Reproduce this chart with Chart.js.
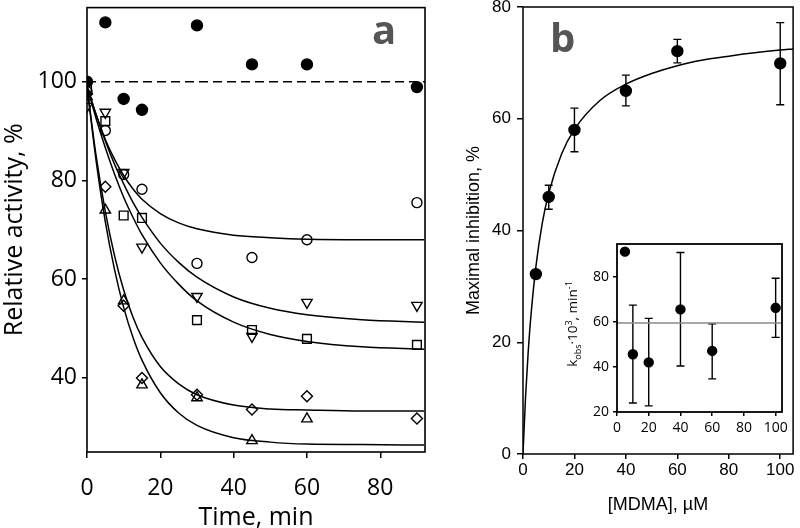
<!DOCTYPE html>
<html>
<head>
<meta charset="utf-8">
<script src="https://cdn.jsdelivr.net/npm/chart.js@4.4.1/dist/chart.umd.min.js"></script>
<style>
  body { margin: 0; background: #fff; }
  #wrap { position: relative; width: 800px; height: 528px; overflow: hidden; background: #fff; }
  canvas { position: absolute; }
  .tag { position: absolute; font-family: 'Open Sans'; font-weight: bold; font-size: 40px; line-height: 40px; color: #555; }
  #kobs { position: absolute; left: 573px; top: 324px; transform: translate(-50%, -50%) rotate(-90deg);
          white-space: nowrap; font: 13.5px 'Open Sans'; color: #000; }
  #kobs sub, #kobs sup { font-size: 9px; }
</style>
</head>
<body>
<div id="wrap">
  <canvas id="panelA" width="440" height="528" style="left:0;top:0"></canvas>
  <canvas id="panelB" width="360" height="528" style="left:440px;top:0"></canvas>
  <canvas id="inset" width="210" height="218" style="left:580px;top:228px"></canvas>
  <div class="tag" style="left:372px;top:9px">a</div>
  <div class="tag" style="left:550px;top:17px">b</div>
  <div id="kobs">k<sub>obs</sub>·10<sup>3</sup>, min<sup>-1</sup></div>
</div>
<script>
// ── panel a: relative activity vs time ────────────────────────────────────────
const timeMin    = [0, 5, 10, 15, 30, 45, 60, 90];
const controlAct = [100, 112, 96.5, 94.3, 111.4, 103.5, 103.5, 98.9];
const circleAct  = [98, 90.1, 81.2, 78.2, 63.2, 64.4, 68.0, 75.5];
const triDownAct = [95, 93.8, 81.6, 66.5, 56.5, 48.4, 55.3, 54.7];
const squareAct  = [98.5, 92, 72.9, 72.4, 51.7, 49.7, 47.9, 46.7];
const diamondAct = [97.5, 78.7, 54.6, 40.0, 36.6, 33.6, 36.3, 31.8];
const triUpAct   = [97, 74, 55.6, 38.6, 36.0, 27.3, 31.7, null];

// fitted curves
const fitTime     = [0, 2.5, 5, 7.5, 10, 12.5, 15, 20, 25, 30, 40, 50, 60, 75, 92];
const fitCircle   = [99, 93.3, 88.3, 84.3, 81.0, 78.3, 76.2, 73.3, 71.4, 70.2, 68.9, 68.4, 68.1, 68.0, 68.0];
const fitTriDown  = [99, 93.3, 88.0, 83.3, 79.3, 75.6, 72.5, 67.3, 63.4, 60.4, 56.4, 54.1, 52.8, 51.8, 51.3];
const fitSquare   = [99, 92.5, 86.6, 81.3, 76.6, 72.6, 69.0, 63.3, 59.0, 55.6, 51.3, 48.8, 47.4, 46.3, 45.8];
const fitDiamond  = [99, 84.9, 73.7, 64.8, 57.8, 52.4, 48.2, 42.3, 38.8, 36.6, 34.5, 33.7, 33.5, 33.3, 33.3];
const fitTriUp    = [99, 83.9, 71.6, 62.0, 54.3, 48.3, 43.6, 37.0, 32.9, 30.4, 27.9, 27.0, 26.6, 26.5, 26.4];
const refLine     = [100, 100];
const refTime     = [0, 92.2];

// ── panel b: maximal inhibition vs [MDMA] ─────────────────────────────────────
const mdma       = [5, 10, 20, 40, 60, 100];
const maxInhib   = [32.2, 46, 58, 65, 72.1, 69.9];
const inhibLow   = [null, 43.8, 54.1, 62.3, 70.0, 62.5];
const inhibHigh  = [null, 48.1, 61.9, 67.8, 74.2, 77.2];
const fitMdma    = [0, 1, 2, 3, 5, 7.5, 10, 15, 20, 30, 40, 50, 60, 70, 80, 90, 100, 105];
const fitInhib   = [0, 10.3, 18.1, 24.3, 33.5, 41.3, 46.7, 53.7, 58.1, 63.3, 66.2, 68.1, 69.5, 70.5, 71.2, 71.8, 72.3, 72.5];

// ── inset: k_obs vs [MDMA] ───────────────────────────────────────────────────
const kMdma  = [5, 10, 20, 40, 60, 100];
const kObs   = [91.1, 45.6, 42, 65.5, 47.1, 66.2];
const kLow   = [null, 24, 22.7, 40.4, 34.7, 53.1];
const kHigh  = [null, 67.4, 61.5, 90.7, 59.1, 79.3];
const kMeanX = [0, 104];
const kMean  = [59.5, 59.5];

const xy = (xs, ys) => xs.map((x, i) => ({ x, y: ys[i] }));
const ticksAt = vals => s => { s.ticks = vals.map(v => ({ value: v })); };
const fixY = w => s => { s.width = w; s.paddingTop = 0; s.paddingBottom = 0; };
const fixX = h => s => { s.height = h; s.paddingLeft = 0; s.paddingRight = 0; };

const frame = {
  id: 'frame',
  beforeDraw(chart) {
    const { ctx, chartArea: a } = chart;
    ctx.save();
    ctx.fillStyle = '#fff';
    ctx.fillRect(a.left, a.top, a.right - a.left, a.bottom - a.top);
    ctx.restore();
  },
  afterDraw(chart, args, opts) {
    const { ctx, chartArea: a } = chart;
    ctx.save();
    ctx.strokeStyle = '#000';
    ctx.lineWidth = opts.width || 1.5;
    ctx.strokeRect(a.left, a.top, a.right - a.left, a.bottom - a.top);
    ctx.restore();
  },
};

const errorBars = {
  id: 'errorBars',
  beforeDatasetsDraw(chart, args, opts) {
    const { ctx, scales: { x, y } } = chart;
    ctx.save();
    ctx.strokeStyle = '#000';
    ctx.lineWidth = opts.lineWidth || 1.5;
    opts.xs.forEach((v, i) => {
      if (opts.lo[i] == null) return;
      const px = x.getPixelForValue(v);
      const y1 = y.getPixelForValue(opts.lo[i]);
      const y2 = y.getPixelForValue(opts.hi[i]);
      ctx.beginPath();
      ctx.moveTo(px, y1); ctx.lineTo(px, y2);
      ctx.moveTo(px - opts.cap, y1); ctx.lineTo(px + opts.cap, y1);
      ctx.moveTo(px - opts.cap, y2); ctx.lineTo(px + opts.cap, y2);
      ctx.stroke();
    });
    ctx.restore();
  },
};

function markers(data, style, radius, extra) {
  return Object.assign({
    data, showLine: false, pointStyle: style, pointRadius: radius, pointHoverRadius: radius,
    pointBorderColor: '#000', pointBackgroundColor: 'rgba(0,0,0,0)', pointBorderWidth: 1.4,
  }, extra || {});
}
function curve(data, extra) {
  return Object.assign({
    data, showLine: true, pointRadius: 0, borderColor: '#000', borderWidth: 1.5,
    cubicInterpolationMode: 'monotone', fill: false,
  }, extra || {});
}
function axis(opts) {
  return Object.assign({ type: 'linear', border: { display: false } }, opts);
}
const tickGrid = len => ({ display: true, drawOnChartArea: false, color: '#000', lineWidth: 1.5, tickLength: len });

Chart.defaults.animation = false;
Chart.defaults.color = '#000';

// panel a
new Chart(document.getElementById('panelA'), {
  type: 'scatter',
  data: {
    datasets: [
      curve(xy(refTime, refLine), { borderDash: [9, 5], cubicInterpolationMode: 'default' }),
      curve(xy(fitTime, fitCircle)),
      curve(xy(fitTime, fitTriDown)),
      curve(xy(fitTime, fitSquare)),
      curve(xy(fitTime, fitDiamond)),
      curve(xy(fitTime, fitTriUp)),
      markers(xy(timeMin, circleAct), 'circle', 5),
      markers(xy(timeMin, triDownAct), 'triangle', 6, { pointRotation: 180 }),
      markers(xy(timeMin, squareAct), 'rect', 6.2),
      markers(xy(timeMin, diamondAct), 'rectRot', 5.5),
      markers(xy(timeMin, triUpAct), 'triangle', 6),
      markers(xy(timeMin, controlAct), 'circle', 5.5, { pointBackgroundColor: '#000' }),
    ],
  },
  options: {
    responsive: false,
    layout: { padding: { left: 0, top: 5, right: 15, bottom: 0 } },
    plugins: { legend: { display: false }, tooltip: { enabled: false }, frame: { width: 1.6 } },
    scales: {
      x: axis({
        min: 0, max: 92.2,
        afterBuildTicks: ticksAt([0, 20, 40, 60, 80]), afterFit: fixX(76),
        grid: tickGrid(6),
        ticks: { padding: 17, maxRotation: 0, font: { family: 'Open Sans', size: 23 } },
        title: { display: true, text: 'Time, min', padding: { top: 0, bottom: -5 },
                 font: { family: 'Open Sans', size: 25 } },
      }),
      y: axis({
        min: 25, max: 115,
        afterBuildTicks: ticksAt([40, 60, 80, 100]), afterFit: fixY(87),
        grid: tickGrid(5),
        ticks: { padding: 5, font: { family: 'Open Sans', size: 23 } },
        title: { display: true, text: 'Relative activity, %', padding: { top: 0, bottom: 0 },
                 font: { family: 'Open Sans', size: 25 } },
      }),
    },
  },
  plugins: [frame],
});

// panel b
new Chart(document.getElementById('panelB'), {
  type: 'scatter',
  data: {
    datasets: [
      curve(xy(fitMdma, fitInhib)),
      markers(xy(mdma, maxInhib), 'circle', 5.5, { pointBackgroundColor: '#000' }),
    ],
  },
  options: {
    responsive: false,
    layout: { padding: { left: 0, top: 7, right: 1, bottom: 0 } },
    plugins: {
      legend: { display: false }, tooltip: { enabled: false }, frame: { width: 1.5 },
      errorBars: { xs: mdma, lo: inhibLow, hi: inhibHigh, cap: 4, lineWidth: 1.4 },
    },
    scales: {
      x: axis({
        min: 0, max: 105,
        afterBuildTicks: ticksAt([0, 20, 40, 60, 80, 100]), afterFit: fixX(74),
        grid: tickGrid(5),
        ticks: { padding: 1, maxRotation: 0, font: { family: 'Liberation Sans', size: 17 } },
        title: { display: true, text: '[MDMA], µM', padding: { top: 0, bottom: 12 },
                 font: { family: 'Liberation Sans', size: 18 } },
      }),
      y: axis({
        min: 0, max: 80,
        afterBuildTicks: ticksAt([0, 20, 40, 60, 80]), afterFit: fixY(83),
        grid: tickGrid(6),
        ticks: { padding: 6, font: { family: 'Liberation Sans', size: 17 } },
        title: { display: true, text: 'Maximal inhibition, %', padding: { top: 23, bottom: 0 },
                 font: { family: 'Liberation Sans', size: 18 } },
      }),
    },
  },
  plugins: [frame, errorBars],
});

// inset
new Chart(document.getElementById('inset'), {
  type: 'scatter',
  data: {
    datasets: [
      curve(xy(kMeanX, kMean), { borderColor: '#8a8a8a', borderWidth: 1.5, cubicInterpolationMode: 'default' }),
      markers(xy(kMdma, kObs), 'circle', 4.5, { pointBackgroundColor: '#000' }),
    ],
  },
  options: {
    responsive: false,
    layout: { padding: { left: 0, top: 16, right: 8, bottom: 0 } },
    plugins: {
      legend: { display: false }, tooltip: { enabled: false }, frame: { width: 1.8 },
      errorBars: { xs: kMdma, lo: kLow, hi: kHigh, cap: 4, lineWidth: 1.4 },
    },
    scales: {
      x: axis({
        min: 0, max: 104,
        afterBuildTicks: ticksAt([0, 20, 40, 60, 80, 100]), afterFit: fixX(34),
        grid: tickGrid(4),
        ticks: { padding: 4, maxRotation: 0, font: { family: 'Open Sans', size: 14 } },
      }),
      y: axis({
        min: 20, max: 94.5,
        afterBuildTicks: ticksAt([20, 40, 60, 80]), afterFit: fixY(37),
        grid: tickGrid(4),
        ticks: { padding: 4, font: { family: 'Open Sans', size: 14 } },
      }),
    },
  },
  plugins: [frame, errorBars],
});
</script>
</body>
</html>
